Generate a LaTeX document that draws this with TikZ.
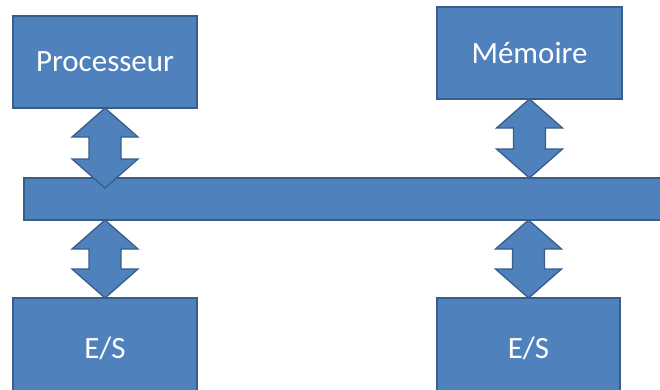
\documentclass[tikz,border=0pt]{standalone}
\usepackage{fontspec}
\setmainfont{Carlito}
\usetikzlibrary{calc}
\definecolor{boxfill}{HTML}{4F81BD}
\definecolor{boxline}{HTML}{385D8A}
\tikzset{
  unit/.style={draw=boxline, fill=boxfill, line width=1.3pt, text=white,
    font=\fontsize{31}{36}\selectfont, inner sep=0pt, outer sep=0pt,
    rectangle, anchor=center},
  linkarrow/.style={draw=boxline, fill=boxfill, line width=1.3pt, line join=miter},
}
% vertical double-headed block arrow from #1 (top tip) to #2 (bottom tip)
\newcommand\blockarrow[2]{%
  \path[linkarrow] let \p1=(#1), \p2=(#2) in
    (\x1,\y1) -- (\x1+33pt,\y1-29pt) -- (\x1+16pt,\y1-29pt)
    -- (\x1+16pt,\y2+29pt) -- (\x1+33pt,\y2+29pt) -- (\x1,\y2)
    -- (\x1-33pt,\y2+29pt) -- (\x1-16pt,\y2+29pt)
    -- (\x1-16pt,\y1-29pt) -- (\x1-33pt,\y1-29pt) -- cycle;}
\begin{document}
\begin{tikzpicture}[x=1pt,y=-1pt]
  \useasboundingbox (0,0) rectangle (660,389);
  \clip (0,0) rectangle (660,389);
  % units
  \node[unit, minimum width=184pt, minimum height=92pt] (proc) at (105,62) {Processeur};
  \node[unit, minimum width=185pt, minimum height=92pt] (mem) at (529.5,53) {Mémoire};
  \node[unit, minimum width=184pt, minimum height=100pt] (io1) at (105,348) {E/S};
  \node[unit, minimum width=183pt, minimum height=100pt] (io2) at (528.5,348) {E/S};
  % system bus, running off the right edge
  \node[unit, minimum width=656pt, minimum height=42pt] (bus) at (352,199) {};
  % where the links meet the bus
  \coordinate (busL) at ($(bus.north -| proc.south)+(0,-10pt)$);
  \coordinate (busR) at (bus.north -| mem.south);
  \coordinate (busLb) at (bus.south -| io1.north);
  \coordinate (busRb) at (bus.south -| io2.north);
  % links
  \blockarrow{proc.south}{busL}
  \blockarrow{mem.south}{busR}
  \blockarrow{busLb}{io1.north}
  \blockarrow{busRb}{io2.north}
\end{tikzpicture}
\end{document}
